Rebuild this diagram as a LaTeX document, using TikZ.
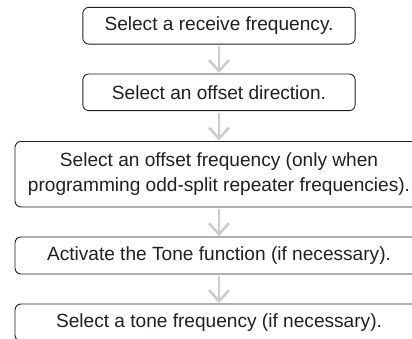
\documentclass[tikz,border=0pt]{standalone}
\usepackage{fontspec}
\setmainfont{Liberation Sans}
\usetikzlibrary{arrows.meta}
\definecolor{ink}{HTML}{231F20}
\definecolor{arrowgrey}{HTML}{CCCCCC}
\begin{document}
\begin{tikzpicture}[x=1bp,y=-1bp,
  stepbox/.style={draw=ink, line width=0.9bp, rounded corners=6bp, inner sep=0pt,
    align=center, text=ink, font=\fontsize{19.1bp}{25bp}\selectfont},
  narrowbox/.style={stepbox, minimum width=272.3bp, minimum height=36.7bp},
  widebox/.style={stepbox, minimum width=408bp, minimum height=37bp},
  flow/.style={draw=arrowgrey, line width=2.8bp,
    -{Straight Barb[length=11bp,width=20bp,line width=2.6bp]},
    shorten <=1.5bp, shorten >=0.5bp}]
\useasboundingbox (0,0) rectangle (412,339);
\clip (0,0) rectangle (412,339);
\node[narrowbox] (s1) at (219,25.7) {Select a receive frequency.};
\node[narrowbox] (s2) at (219,92.3) {Select an offset direction.};
\node[widebox, minimum height=65.5bp] (s3) at (219,174.2) {Select an offset frequency (only when\\programming odd-split repeater frequencies).};
\node[widebox] (s4) at (219,255.5) {Activate the Tone function (if necessary).};
\node[widebox] (s5) at (219,322.5) {Select a tone frequency (if necessary).};
\draw[flow] (s1.south) -- (s2.north);
\draw[flow] (s2.south) -- (s3.north);
\draw[flow] (s3.south) -- (s4.north);
\draw[flow] (s4.south) -- (s5.north);
\end{tikzpicture}
\end{document}
